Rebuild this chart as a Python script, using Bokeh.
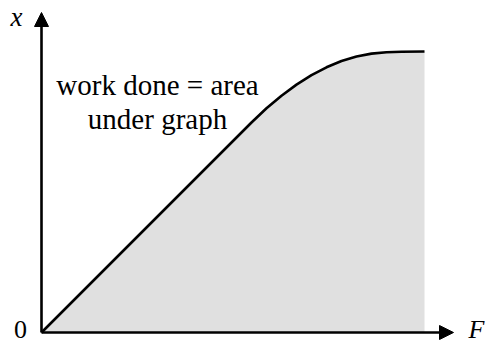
from bokeh.plotting import figure
from bokeh.models import Range1d, Arrow, NormalHead
from bokeh.core.properties import value
from bokeh.embed import file_html
from bokeh.resources import INLINE

# force F (horizontal) and extension x (vertical), in arbitrary units
force = [0, 210, 225, 240, 255, 270, 285, 300, 315, 330, 345, 360, 383]
extension = [0, 210, 224.2, 236.8, 247.9, 257.3, 265.2, 271.5, 276, 278.9, 280.3, 280.8, 281]

annotation_lines = ["work done = area", "under graph"]
x_label = "x"
f_label = "F"
origin_label = "0"

W, H = 487, 343
OX, OY = 41, 332  # origin position in pixels from top-left
p = figure(width=W, height=H, output_backend="svg", toolbar_location=None,
           x_range=Range1d(-OX, W - OX), y_range=Range1d(OY - H, OY),
           min_border=0)
p.axis.visible = False
p.grid.visible = False
p.outline_line_color = None
p.background_fill_color = "white"

p.varea(x=force, y1=[0] * len(force), y2=extension, fill_color="#e0e0e0")
p.line(force, extension, line_color="black", line_width=2.6)

# axes with arrows
p.add_layout(Arrow(x_start=0, y_start=0, x_end=412, y_end=0, line_width=2.6,
                   end=NormalHead(size=14, fill_color="black", line_color="black", line_width=1)))
p.add_layout(Arrow(x_start=0, y_start=0, x_end=0, y_end=320, line_width=2.6,
                   end=NormalHead(size=14, fill_color="black", line_color="black", line_width=1)))

serif = value("'Liberation Serif', 'Times New Roman', serif")
p.text(x=[116, 116], y=[247.5, 214], text=annotation_lines, text_font=serif,
       text_font_size="29px", text_align="center", text_baseline="alphabetic", text_color="black")
p.text(x=[-25], y=[316], text=[x_label], text_font=serif, text_font_style="italic",
       text_font_size="27px", text_align="center", text_baseline="alphabetic", text_color="black")
p.text(x=[435], y=[3], text=[f_label], text_font=serif, text_font_style="italic",
       text_font_size="26px", text_align="center", text_baseline="alphabetic", text_color="black")
p.text(x=[-21], y=[3], text=[origin_label], text_font=serif,
       text_font_size="26px", text_align="center", text_baseline="alphabetic", text_color="black")

open("out.html", "w").write(file_html(p, INLINE))
